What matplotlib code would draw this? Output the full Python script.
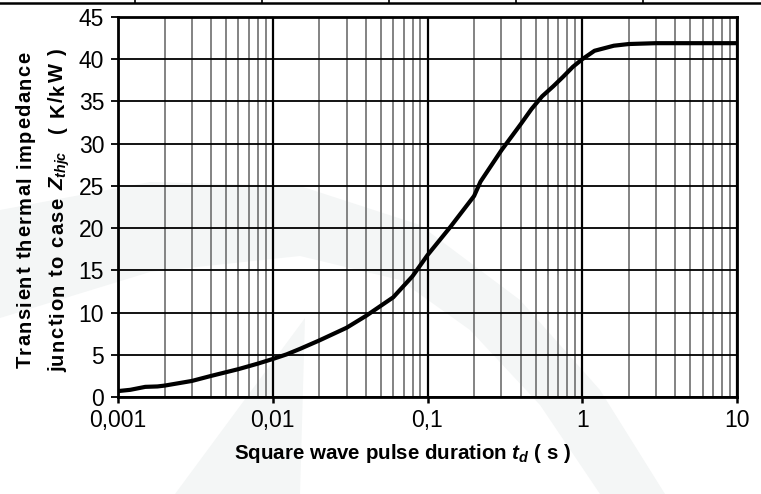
import matplotlib
matplotlib.use("Agg")
import matplotlib.pyplot as plt
from matplotlib.lines import Line2D
from matplotlib.patches import Polygon
from matplotlib.ticker import FixedLocator, LogLocator, NullFormatter, FixedFormatter
from matplotlib import font_manager
from matplotlib.ft2font import FT2Font

plt.rcParams['font.family'] = ['Liberation Sans', 'DejaVu Sans']
plt.rcParams['mathtext.fontset'] = 'custom'
plt.rcParams['mathtext.rm'] = 'Liberation Sans:bold'
plt.rcParams['mathtext.it'] = 'Liberation Sans:italic:bold'
plt.rcParams['mathtext.bf'] = 'Liberation Sans:bold'

# ---- data ----
pulse_duration_s = [0.001, 0.0012, 0.0015, 0.0018, 0.002, 0.003, 0.004, 0.006, 0.008,
                    0.01, 0.0123, 0.015, 0.02, 0.03, 0.04, 0.06, 0.08, 0.1, 0.14, 0.2,
                    0.22, 0.3, 0.4, 0.47, 0.55, 0.65, 0.75, 0.87, 1.0, 1.2, 1.6, 2.0, 3.0, 10.0]
zthjc_k_per_kw = [0.7, 0.85, 1.2, 1.25, 1.35, 1.9, 2.5, 3.3, 3.95,
                  4.5, 5.05, 5.7, 6.7, 8.2, 9.6, 11.8, 14.3, 16.8, 20.1, 23.8,
                  25.5, 29.2, 32.3, 34.1, 35.6, 36.8, 37.9, 39.1, 40.0, 41.0, 41.6, 41.8, 41.9, 41.9]
x_tick_values = [0.001, 0.01, 0.1, 1, 10]
x_tick_labels = ["0,001", "0,01", "0,1", "1", "10"]
y_tick_values = [0, 5, 10, 15, 20, 25, 30, 35, 40, 45]
y_tick_labels = ["0", "5", "10", "15", "20", "25", "30", "35", "40", "45"]
ylabel_line1 = ["Transient thermal impedance"]
ylabel_line2 = ["junction to case ", "$Z_{thjc}$", "  ( K/kW )"]
xlabel_text = "Square wave pulse duration $t_{d}$ ( s )"

W, H = 761, 494
DPI = 100
fig = plt.figure(figsize=(W / DPI, H / DPI), dpi=DPI)

def px(x, y):
    return (x / W, 1 - y / H)

# ---- faint watermark ----
wm_color = '#f4f6f6'
outer = [(0, 210), (150, 182), (300, 186), (420, 225), (520, 300), (600, 390), (665, 494)]
inner = [(600, 494), (540, 405), (470, 330), (400, 280), (300, 256), (150, 272), (0, 318)]
fig.add_artist(Polygon([px(*p) for p in outer + inner], closed=True,
                       transform=fig.transFigure, facecolor=wm_color, edgecolor='none', zorder=0))
spike = [(175, 494), (305, 318), (300, 494)]
fig.add_artist(Polygon([px(*p) for p in spike], closed=True,
                       transform=fig.transFigure, facecolor=wm_color, edgecolor='none', zorder=0))

# ---- top table line ----
fig.add_artist(Line2D([0, 1], [1 - 3 / H] * 2, transform=fig.transFigure, color='black', lw=1.8))
for xv in [135, 262, 389, 516, 643]:
    fig.add_artist(Line2D([xv / W] * 2, [1, 1 - 3 / H], transform=fig.transFigure, color='black', lw=1.2))

# ---- axes ----
ax = fig.add_axes([118 / W, 1 - 397 / H, (737 - 118) / W, (397 - 17) / H])
ax.patch.set_facecolor('none')
ax.set_xscale('log')
ax.set_xlim(0.001, 10)
ax.set_ylim(0, 45)

ax.xaxis.set_major_locator(FixedLocator(x_tick_values))
ax.xaxis.set_major_formatter(FixedFormatter(x_tick_labels))
ax.xaxis.set_minor_locator(LogLocator(base=10, subs=[2, 3, 4, 5, 6, 7, 8, 9]))
ax.xaxis.set_minor_formatter(NullFormatter())
ax.yaxis.set_major_locator(FixedLocator(y_tick_values))
ax.yaxis.set_major_formatter(FixedFormatter(y_tick_labels))

ax.grid(which='minor', axis='x', color='#7a7a7a', lw=1.3, zorder=1)
ax.grid(which='major', axis='x', color='black', lw=1.6, zorder=1)
ax.grid(which='major', axis='y', color='black', lw=1.3, zorder=1)
ax.set_axisbelow(True)

for s in ax.spines.values():
    s.set_linewidth(2.0)
    s.set_color('black')

ax.tick_params(axis='y', which='major', direction='out', length=5, width=1.3, pad=5, labelsize=16.5)
ax.tick_params(axis='x', which='major', direction='out', length=4.5, width=1.8, pad=4, labelsize=16.5)
ax.tick_params(axis='x', which='minor', length=0)

ax.plot(pulse_duration_s, zthjc_k_per_kw, color='black', lw=3.0, solid_capstyle='round',
        solid_joinstyle='round', zorder=3)

# ---- letter-spaced vertical labels ----
renderer = fig.canvas.get_renderer()
bold_prop = font_manager.FontProperties(family='Liberation Sans', weight='bold')
bold_path = font_manager.findfont(bold_prop)

def char_advance(c, size_pt):
    f = FT2Font(bold_path)
    f.set_size(size_pt, DPI)
    g = f.load_char(ord(c))
    return g.linearHoriAdvance / 65536.0

def vertical_spaced(pieces, x_center_px, y_center_px, size_pt, extra_px):
    items = []
    for p in pieces:
        if p.startswith('$'):
            t = fig.text(0, 0, p, fontsize=size_pt, fontweight='bold')
            w = t.get_window_extent(renderer).width
            t.remove()
            items.append((p, w + 2))
        else:
            for c in p:
                items.append((c, char_advance(c, size_pt)))
    total = sum(a for _, a in items) + extra_px * (len(items) - 1)
    size_px = size_pt * DPI / 72.0
    x_base = x_center_px + 0.36 * size_px
    y = y_center_px + total / 2.0
    for txt, adv in items:
        if txt.strip():
            fig.text(x_base / W, 1 - y / H, txt, rotation=90, rotation_mode='anchor',
                     ha='left', va='baseline', fontsize=size_pt, fontweight='bold')
        y -= adv + extra_px

vertical_spaced(ylabel_line1, 23, 210, 14.5, 1.4)
vertical_spaced(ylabel_line2, 56, 210, 14.5, 1.4)

fig.text(403 / W, 1 - 453 / H, xlabel_text,
         ha='center', va='center', fontsize=14.8, fontweight='bold')

fig.savefig("out.png", dpi=DPI)
